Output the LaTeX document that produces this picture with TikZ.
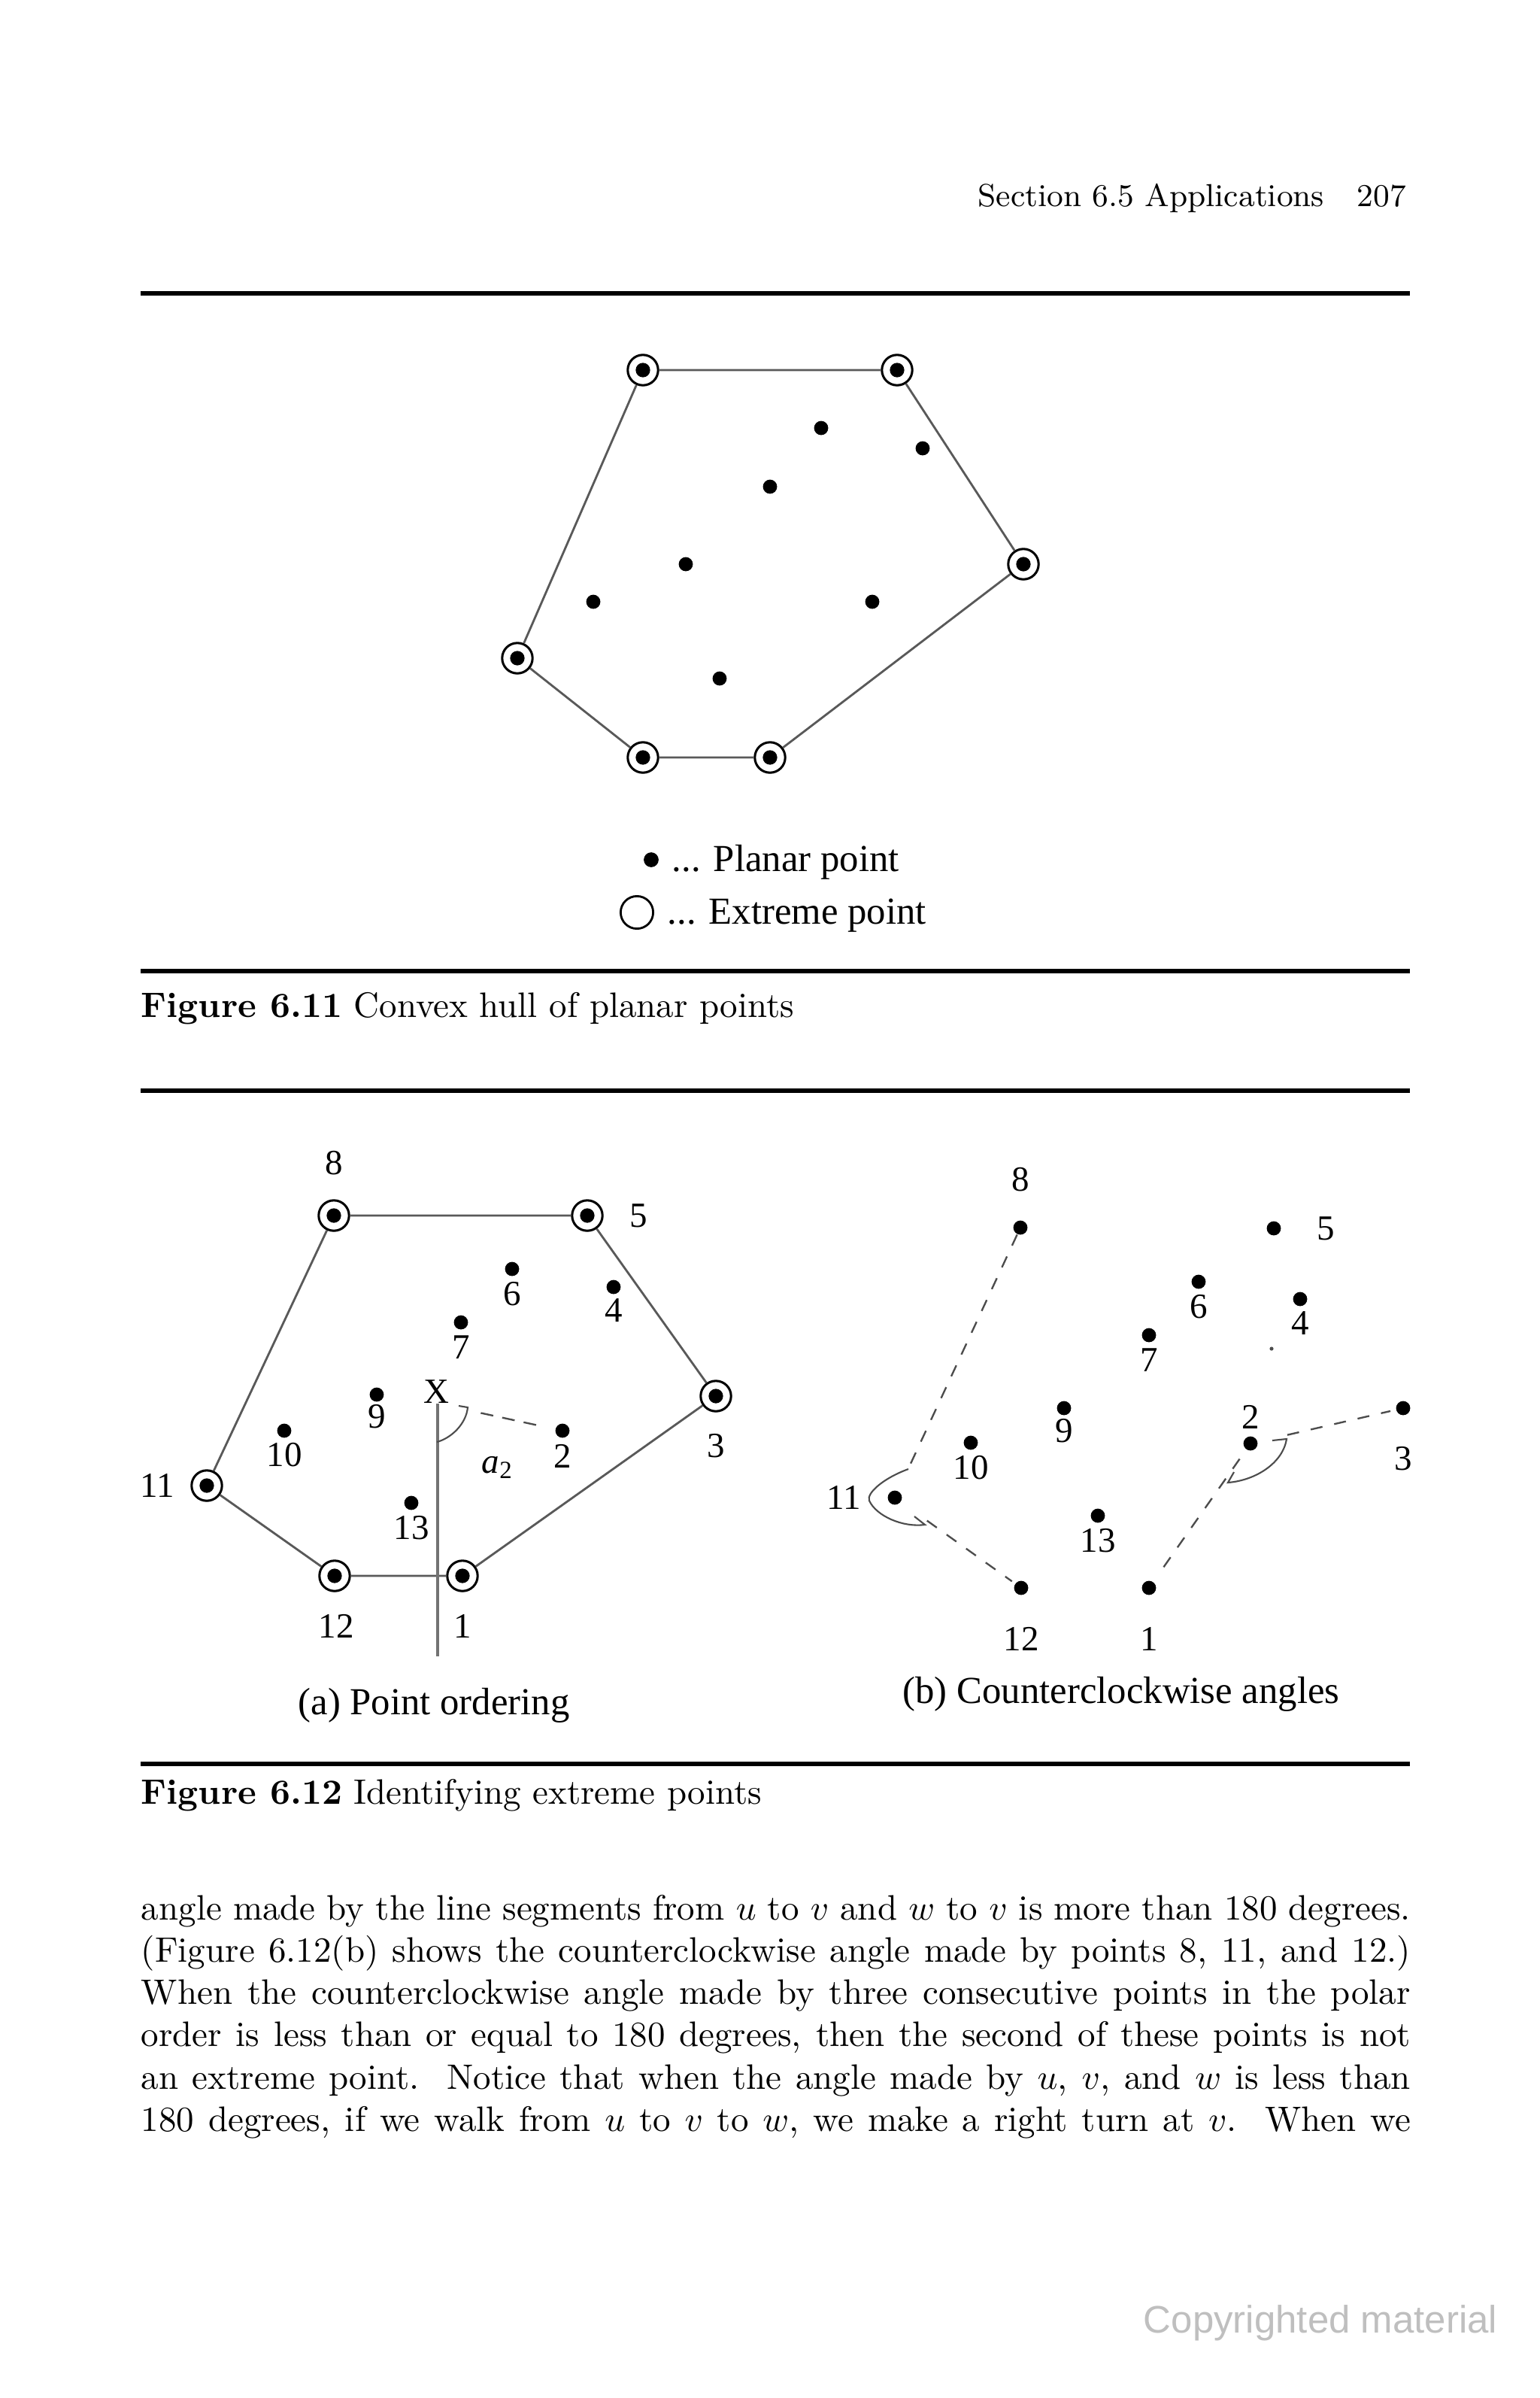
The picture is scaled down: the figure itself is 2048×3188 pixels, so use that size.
\documentclass[tikz,border=0pt]{standalone}
\usepackage{fontspec}
\newfontfamily\tms{Liberation Serif}
\newfontfamily\arl{Liberation Sans}
\begin{document}
\begin{tikzpicture}[x=0.2128pt,y=-0.2128pt,
  pdot/.style={circle,fill=black,inner sep=0pt,minimum size=4pt},
  sdot/.style={circle,fill=black!70,inner sep=0pt,minimum size=1.1pt},
  xpt/.style={circle,draw=black,line width=0.65pt,inner sep=0pt,minimum size=8.6pt,
    path picture={\fill (path picture bounding box.center) circle (2.05pt);}},
  hull/.style={draw=black!65,line width=0.6pt},
  lbl/.style={font=\tms\fontsize{10}{12}\selectfont,inner sep=0pt},
  captxt/.style={font=\tms\fontsize{10.8}{13}\selectfont,inner sep=0pt},
  dsh/.style={draw=black!70,line width=0.5pt,dash pattern=on 3.4pt off 3.4pt},
  arcl/.style={draw=black!70,line width=0.45pt},
  hrule/.style={line width=1.1pt},
  body/.style={font=\fontsize{10}{12}\selectfont,inner sep=0pt,anchor=base west}]
\fill[white] (0,0) rectangle (2048,3188);
\useasboundingbox (0,0) rectangle (2048,3188);

% header
\node[font=\fontsize{9}{11}\selectfont,inner sep=0pt,anchor=base east] (hdr) at (1762,274) {Section 6.5 Applications};
\node[font=\fontsize{9}{11}\selectfont,inner sep=0pt,anchor=base east] (pg) at (1871,274) {207};

% rules
\draw[hrule] (187,390) -- (1875,390);
\draw[hrule] (187,1291) -- (1875,1291);
\draw[hrule] (187,1450) -- (1875,1450);
\draw[hrule] (187,2345) -- (1875,2345);

% Figure 6.11
\node[xpt] (hA) at (855,492) {};
\node[xpt] (hB) at (1193,492) {};
\node[xpt] (hC) at (1361,750) {};
\node[xpt] (hD) at (688,875) {};
\node[xpt] (hE) at (855,1007) {};
\node[xpt] (hF) at (1024,1007) {};
\node[pdot] (p1) at (1092,569) {};
\node[pdot] (p2) at (1227,596) {};
\node[pdot] (p3) at (1024,647) {};
\node[pdot] (p4) at (912,750) {};
\node[pdot] (p5) at (789,800) {};
\node[pdot] (p6) at (1160,800) {};
\node[pdot] (p7) at (957,902) {};
\draw[hull] (hA) -- (hB) -- (hC) -- (hF) -- (hE) -- (hD) -- (hA);

% legend
\node[circle,fill=black,inner sep=0pt,minimum size=4.2pt] (lgd) at (866,1143) {};
\node[captxt,anchor=base west] (lgt1) at (893,1158) {... Planar point};
\node[circle,draw=black,line width=0.6pt,inner sep=0pt,minimum size=9.2pt] (lgc) at (847,1213) {};
\node[captxt,anchor=base west] (lgt2) at (887,1228) {... Extreme point};

% caption 6.11
\node[body] (cap611) at (187,1352) {\textbf{Figure 6.11} Convex hull of planar points};

% Figure 6.12 (a)
\node[xpt] (a8) at (444,1616) {};
\node[xpt] (a5) at (781,1616) {};
\node[xpt] (a3) at (952,1856) {};
\node[xpt] (a1) at (615,2095) {};
\node[xpt] (a12) at (445,2095) {};
\node[xpt] (a11) at (275,1975) {};
\node[pdot] (a6) at (681,1687) {};
\node[pdot] (a4) at (816,1711) {};
\node[pdot] (a7) at (613,1758) {};
\node[pdot] (a9) at (501,1854) {};
\node[pdot] (a10) at (378,1902) {};
\node[pdot] (a2) at (748,1902) {};
\node[pdot] (a13) at (547,1998) {};
\draw[hull] (a8) -- (a5) -- (a3) -- (a1) -- (a12) -- (a11) -- (a8);
\coordinate (ax) at (582,1866);
\coordinate (axb) at (582,2202);
\draw[draw=black!55,line width=0.9pt] (ax) -- (axb);
\draw[dsh,dash pattern=on 3.6pt off 2.6pt,shorten <=12.5pt,shorten >=3.5pt] (ax) -- (a2);
\coordinate (aa1) at (581,1917);
\coordinate (aa2) at (622,1871);
\coordinate (aa3) at (610,1869);
\draw[arcl] (aa1) .. controls (600,1912) and (620,1893) .. (aa2) -- (aa3);
\node[lbl] (la8) at (444,1546) {8};
\node[lbl] (la5) at (849,1616) {5};
\node[lbl] (la6) at (681,1720) {6};
\node[lbl] (la4) at (816,1742) {4};
\node[lbl] (la7) at (613,1791) {7};
\node[lbl] (lax) at (580,1850) {X};
\node[lbl] (la9) at (501,1883) {9};
\node[lbl] (la3) at (952,1922) {3};
\node[lbl] (la10) at (378,1934) {10};
\node[lbl] (la2) at (748,1936) {2};
\node[lbl] (lalpha) at (662,1951) {\textit{a}\textsubscript{2}};
\node[lbl] (la11) at (209,1975) {11};
\node[lbl] (la13) at (547,2031) {13};
\node[lbl] (la12) at (447,2162) {12};
\node[lbl] (la1) at (615,2162) {1};
\node[captxt,anchor=base] (capa) at (577,2279) {(a) Point ordering};

% Figure 6.12 (b)
\node[pdot] (b8) at (1357,1632) {};
\node[pdot] (b5) at (1694,1633) {};
\node[pdot] (b6) at (1594,1704) {};
\node[pdot] (b4) at (1729,1727) {};
\node[sdot] (bs) at (1691,1793) {};
\node[pdot] (b7) at (1528,1775) {};
\node[pdot] (b9) at (1415,1872) {};
\node[pdot] (b2) at (1663,1919) {};
\node[pdot] (b3) at (1866,1872) {};
\node[pdot] (b10) at (1291,1918) {};
\node[pdot] (b11) at (1190,1991) {};
\node[pdot] (b13) at (1460,2015) {};
\node[pdot] (b12) at (1358,2111) {};
\node[pdot] (b1) at (1528,2111) {};
\draw[dsh,shorten >=6.5pt] (b8) -- (b11);
\draw[dsh,shorten <=9pt,shorten >=1pt] (b11) -- (b12);
\draw[dsh,shorten <=5pt,shorten >=1pt] (b1) -- (b2);
\draw[dsh,shorten <=8.5pt,shorten >=1.5pt] (b2) -- (b3);
\coordinate (c1s) at (1208,1953);
\coordinate (c1m) at (1156,1995);
\coordinate (c1e) at (1230,2027);
\coordinate (c1b) at (1216,2016);
\draw[arcl] (c1s) .. controls (1175,1965) and (1152,1985) .. (c1m)
  .. controls (1165,2015) and (1200,2031) .. (c1e) -- (c1b);
\coordinate (c2t) at (1692,1915);
\coordinate (c2s) at (1711,1913);
\coordinate (c2e) at (1633,1971);
\coordinate (c2b) at (1641,1957);
\draw[arcl] (c2t) -- (c2s) .. controls (1706,1945) and (1670,1968) .. (c2e) -- (c2b);
\node[lbl] (lb8) at (1357,1568) {8};
\node[lbl] (lb5) at (1763,1633) {5};
\node[lbl] (lb6) at (1594,1737) {6};
\node[lbl] (lb4) at (1729,1759) {4};
\node[lbl] (lb7) at (1528,1808) {7};
\node[lbl] (lb9) at (1415,1902) {9};
\node[lbl] (lb2) at (1663,1884) {2};
\node[lbl] (lb3) at (1866,1939) {3};
\node[lbl] (lb10) at (1291,1951) {10};
\node[lbl] (lb11) at (1122,1991) {11};
\node[lbl] (lb13) at (1460,2048) {13};
\node[lbl] (lb12) at (1358,2179) {12};
\node[lbl] (lb1) at (1528,2179) {1};
\node[captxt,anchor=base] (capb) at (1491,2264) {(b) Counterclockwise angles};

% caption 6.12
\node[body] (cap612) at (187,2398) {\textbf{Figure 6.12} Identifying extreme points};

% body text
\node[body] (t1) at (187,2552) {\hbox to 359.2pt{angle made by the line segments from $u$ to $v$ and $w$ to $v$ is more than 180 degrees.}};
\node[body] (t2) at (187,2608) {\hbox to 359.2pt{(Figure 6.12(b) shows the counterclockwise angle made by points 8, 11, and 12.)}};
\node[body] (t3) at (187,2664) {\hbox to 359.2pt{When the counterclockwise angle made by three consecutive points in the polar}};
\node[body] (t4) at (187,2720) {\hbox to 359.2pt{order is less than or equal to 180 degrees, then the second of these points is not}};
\node[body] (t5) at (187,2777) {\hbox to 359.2pt{an extreme point.\ \ Notice that when the angle made by $u$, $v$, and $w$ is less than}};
\node[body] (t6) at (187,2833) {\hbox to 359.2pt{180 degrees, if we walk from $u$ to $v$ to $w$, we make a right turn at $v$.\ \ When we}};

% watermark
\node[font=\arl\fontsize{10.85}{13}\selectfont,text=black!25,inner sep=0pt,anchor=base west] (wm) at (1520,3101) {Copyrighted material};
\end{tikzpicture}
\end{document}
